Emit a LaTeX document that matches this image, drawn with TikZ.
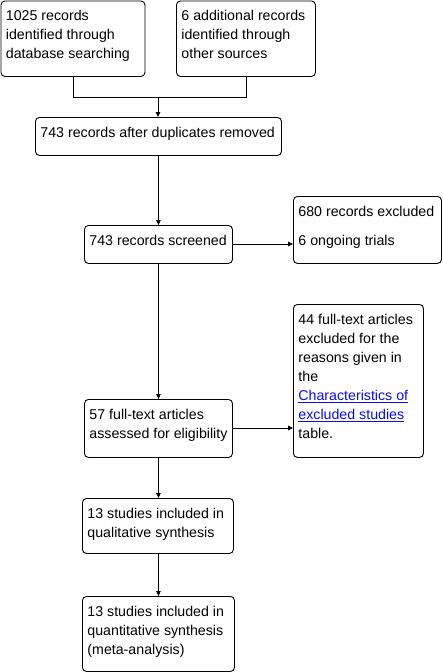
\documentclass[tikz,border=0pt]{standalone}
\usepackage{fontspec}
\setmainfont{Liberation Sans}
\usetikzlibrary{arrows.meta}
\definecolor{linkblue}{RGB}{10,10,240}
\newcommand\bxt[3]{\parbox[c][#2][t]{#1}{\raggedright\rule{0pt}{20pt}#3}}
\begin{document}
\begin{tikzpicture}[x=1pt,y=-1pt,
  box/.style={draw=black, line width=0.9pt, rounded corners=4pt, anchor=north west,
    inner xsep=5pt, inner ysep=0pt, font=\fontsize{14.2}{19}\selectfont},
  conn/.style={draw=black, line width=0.9pt},
  arr/.style={conn, -{Triangle[length=5pt,width=4.5pt]}}]
\useasboundingbox (0,0) rectangle (442,672);
\node[box] (b1) at (0.5,0.5) {\bxt{134pt}{75.5pt}{1025 records\\identified through\\database searching}};
\node[box] (b2) at (176,0.5) {\bxt{129pt}{75.5pt}{6 additional records\\identified through\\other sources}};
\node[box] (b3) at (35,117) {\bxt{236pt}{38pt}{743 records after duplicates removed}};
\node[box] (b4) at (84,225) {\bxt{138pt}{38pt}{743 records screened}};
\node[box] (b5) at (293,196) {\bxt{138pt}{67pt}{680 records excluded\\[10pt]6 ongoing trials}};
\node[box] (b6) at (84,399) {\bxt{138pt}{58pt}{57 full-text articles\\assessed for eligibility}};
\node[box] (b7) at (293,304) {\bxt{120pt}{153pt}{44 full-text articles\\excluded for the\\reasons given in\\the\\{\color{linkblue}\underline{Characteristics of}}\\{\color{linkblue}\underline{excluded studies}}\\table.}};
\node[box] (b8) at (82,498) {\bxt{141pt}{55pt}{13 studies included in\\qualitative synthesis}};
\node[box] (b9) at (82,596) {\bxt{142pt}{75pt}{13 studies included in\\quantitative synthesis\\(meta-analysis)}};
\coordinate (j) at (158,97);
\draw[conn] (b1.south) |- (j);
\draw[conn] (b2.south) |- (j);
\draw[arr] (j) -- (j |- b3.north);
\draw[arr] (b3.south -| b4.north) -- (b4.north);
\draw[arr] (b4.south) -- (b6.north);
\draw[arr] (b6.south) -- (b6.south |- b8.north);
\draw[arr] (b8.south -| b6.south) -- (b6.south |- b9.north);
\draw[arr] (b4.east |- 0,244) -- (b5.west |- 0,244);
\draw[arr] (b6.east |- 0,428) -- (b7.west |- 0,428);
\end{tikzpicture}
\end{document}
